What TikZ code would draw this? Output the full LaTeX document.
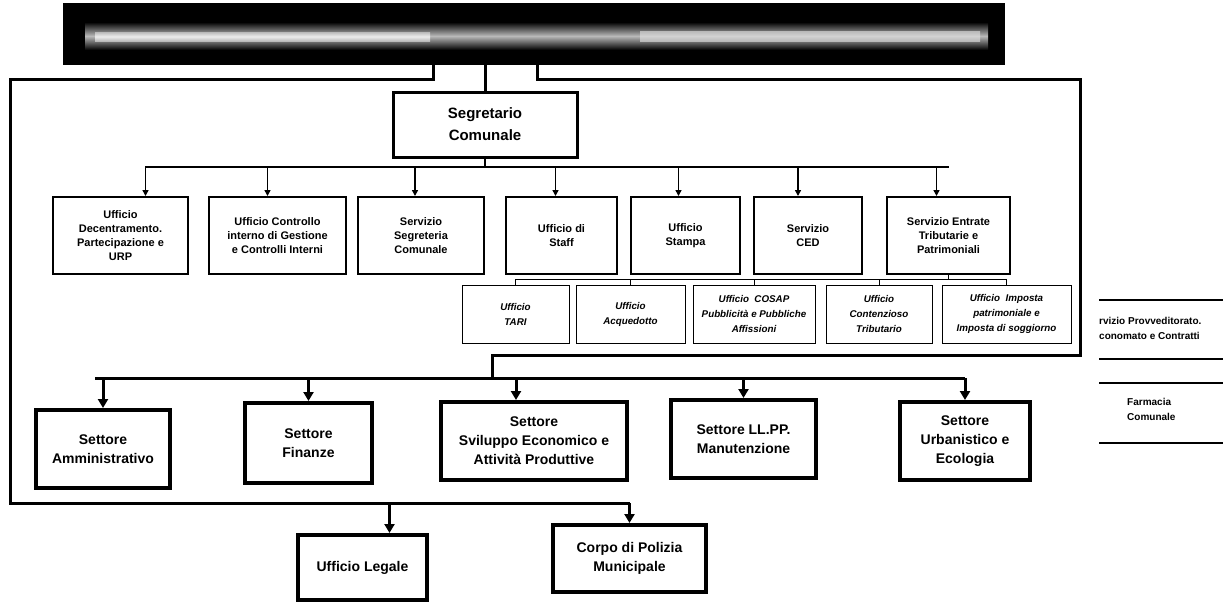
\documentclass[tikz,border=0pt]{standalone}
\usepackage{fontspec}
\setmainfont{Liberation Sans}
\usetikzlibrary{arrows.meta}

\begin{document}
\begin{tikzpicture}
[x=1pt,y=-1pt,
  frameLine/.style={line width=3pt},
  thinLine/.style={line width=0.8pt},
  smallArrow/.style={line width=1.5pt,-{Triangle[length=6pt,width=6pt]}},
  bigArrow/.style={line width=3pt,-{Triangle[length=9pt,width=10pt]}},
  officeBox/.style={draw,line width=2pt,align=center,inner sep=2pt,minimum height=77,
    font=\bfseries\fontsize{11}{14}\selectfont},
  subBox/.style={draw,line width=0.8pt,align=center,inner sep=2pt,minimum height=58,
    font=\bfseries\itshape\fontsize{9.8}{15}\selectfont},
  sectorBox/.style={draw,line width=4pt,align=center,inner sep=2pt,
    font=\bfseries\fontsize{14}{19}\selectfont},
  sideText/.style={anchor=west,align=left,inner sep=0pt,
    font=\bfseries\fontsize{10}{15}\selectfont}]
\fill[white] (0,0) rectangle (1223,603);
\useasboundingbox (0,0) rectangle (1223,603);

%% banner
\node[fill=black,minimum width=942,minimum height=62,inner sep=0pt] (banner) at (534,34) {};
\shade[top color=black,bottom color=black,middle color=gray!55] (85,22) rectangle (988,50);
\shade[top color=gray!55,bottom color=gray!55,middle color=gray!15] (95,32) rectangle (430,41);
\shade[top color=gray!55,bottom color=gray!55,middle color=gray!35] (640,31) rectangle (980,41);

%% segretario
\node[draw,line width=3pt,minimum width=184,minimum height=65,align=center,
  font=\bfseries\fontsize{15}{22}\selectfont] (segr) at (485,124.5) {Segretario\\Comunale};

%% first row of offices
\foreach \nodename/\x/\w/\txt in {
  u1/120.5/135/{Ufficio\\Decentramento.\\Partecipazione e\\URP},
  u2/277.5/137/{Ufficio Controllo\\interno di Gestione\\e Controlli Interni},
  u3/421/126/{Servizio\\Segreteria\\Comunale},
  u4/561.5/111/{Ufficio di\\Staff},
  u5/685.5/109/{Ufficio\\Stampa},
  u6/808/108/{Servizio\\CED},
  u7/948.5/123/{Servizio Entrate\\Tributarie e\\Patrimoniali}}
{
  \node[officeBox,minimum width=\w] (\nodename) at (\x,235.5) {\txt};
}

%% offices under Servizio Entrate
\foreach \nodename/\x/\w/\txt in {
  s1/515.5/107/{Ufficio\\TARI},
  s2/630.5/109/{Ufficio\\Acquedotto},
  s3/754/122/{Ufficio~~COSAP\\Pubblicità e Pubbliche\\Affissioni},
  s4/879/106/{Ufficio\\Contenzioso\\Tributario},
  s5/1006.5/129/{Ufficio~~Imposta\\patrimoniale e\\Imposta di soggiorno}}
{
  \node[subBox,minimum width=\w] (\nodename) at (\x,314) {\txt};
}

%% settori
\foreach \nodename/\x/\y/\w/\h/\txt in {
  se1/103/449/134/78/{Settore\\Amministrativo},
  se2/308.5/443/127/80/{Settore\\Finanze},
  se3/534/441/186/78/{Settore\\Sviluppo Economico e\\Attività Produttive},
  se4/743.5/439/145/78/{Settore LL.PP.\\Manutenzione},
  se5/965/441/130/78/{Settore\\Urbanistico e\\Ecologia},
  legale/362.5/567.5/129/65/{Ufficio Legale},
  corpo/629.5/558.5/153/67/{Corpo di Polizia\\Municipale}}
{
  \node[sectorBox,minimum width=\w,minimum height=\h] (\nodename) at (\x,\y) {\txt};
}

%% side notes
\node[sideText] (prov) at (1099,328) {rvizio Provveditorato.\\conomato e Contratti};
\node[sideText] (farm) at (1127,409) {Farmacia\\Comunale};
\draw[line width=1.5pt] (1099,300) -- (1223,300) (1099,359) -- (1223,359);
\draw[line width=1.5pt] (1099,383) -- (1223,383) (1099,443) -- (1223,443);

%% frame lines
\coordinate (hubT) at (145,167);
\coordinate (hubS) at (515.5,279);
\coordinate (hubB) at (95,378);
\coordinate (fB) at (10,503);
\draw[frameLine] (segr.north |- banner.south) -- (segr.north);
\draw[frameLine] (433,65) |- (10,79) |- (corpo.north |- fB);
\draw[frameLine] (537,65) |- (1080,79) |- (492,355) -- (492,378);
\draw[frameLine] (hubB) -- (se5.north |- hubB);
\foreach \nodename/\dx in {se1/0, se2/0, se3/-18, se4/0, se5/0}
{
  \draw[bigArrow] ([xshift=\dx]\nodename.north |- hubB) -- ([xshift=\dx]\nodename.north);
}
\draw[bigArrow] ([xshift=27]legale.north |- fB) -- ([xshift=27]legale.north);
\draw[bigArrow] (corpo.north |- fB) -- (corpo.north);

%% segretario to offices
\draw[line width=2pt] (segr.south) -- (segr.south |- hubT);
\draw[line width=1.5pt] (hubT) -- (u7.north |- hubT);
\foreach \nodename/\dx in {u1/25, u2/-10, u3/-6, u4/-6, u5/-7, u6/-10, u7/-12}
{
  \draw[smallArrow] ([xshift=\dx]\nodename.north |- hubT) -- ([xshift=\dx]\nodename.north);
}

%% servizio entrate to its offices
\draw[thinLine] (u7.south) -- (u7.south |- hubS);
\draw[thinLine] (hubS) -- (s5.north |- hubS);
\foreach \nodename in {s1,s2,s3,s4,s5}
{
  \draw[thinLine] (\nodename.north |- hubS) -- (\nodename.north);
}
\end{tikzpicture}
\end{document}
